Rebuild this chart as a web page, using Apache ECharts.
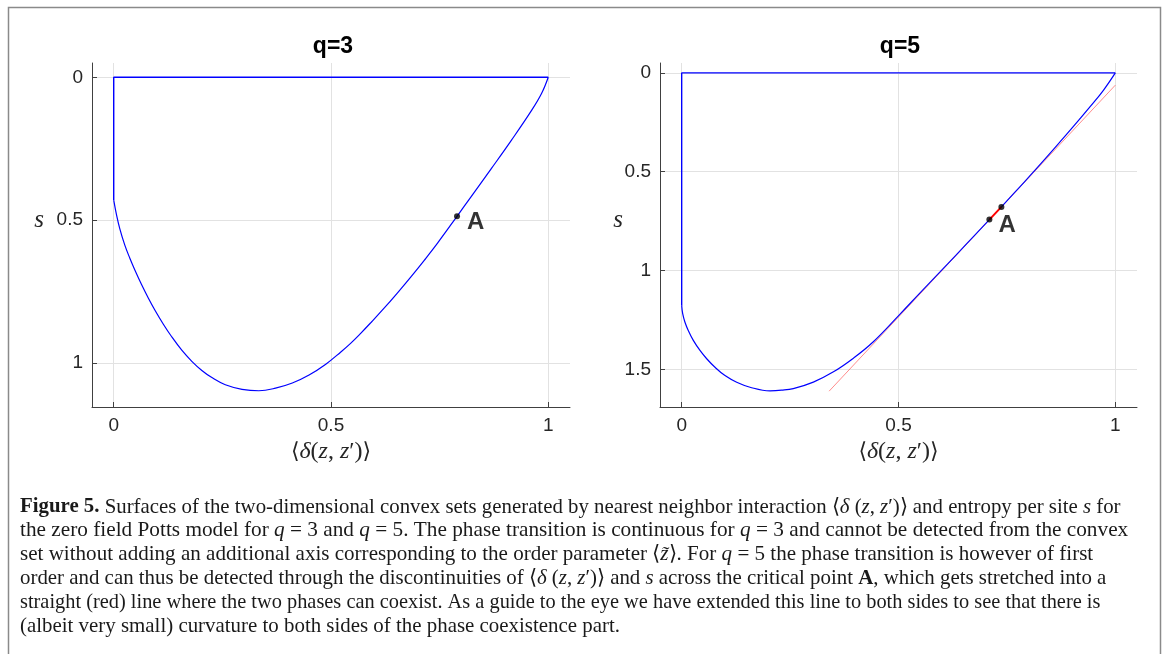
<!DOCTYPE html>
<html>
<head>
<meta charset="utf-8">
<script src="https://cdn.jsdelivr.net/npm/echarts@6/dist/echarts.min.js"></script>
<style>
  html, body { margin: 0; padding: 0; background: #ffffff; }
  #chart { width: 1169px; height: 654px; }
</style>
</head>
<body>
<div id="chart"></div>
<script>
// Tick values shared by both panels
const xTicks = [0, 0.5, 1];
const yTicksQ3 = [0, 0.5, 1];
const yTicksQ5 = [0, 0.5, 1, 1.5];

// q = 3: straight edges of the convex set (top edge and the x = 0 edge)
const q3Edges = [[1, 0], [0, 0], [0, 0.43]];
// q = 3: curved boundary, from the x = 0 edge down to the minimum and back up to (1, 0)
const q3Curve = [
  [0, 0.43], [0.0062, 0.480], [0.0139, 0.530], [0.0255, 0.588], [0.0371, 0.634],
  [0.0486, 0.675], [0.064, 0.726], [0.0795, 0.773], [0.0949, 0.816], [0.1142, 0.865],
  [0.1334, 0.909], [0.1566, 0.956], [0.1797, 0.995], [0.2028, 1.027], [0.2259, 1.052],
  [0.2568, 1.077], [0.2953, 1.093], [0.334, 1.098], [0.3724, 1.089], [0.411, 1.071],
  [0.4495, 1.043], [0.488, 1.005], [0.522, 0.963], [0.5451, 0.932], [0.5683, 0.897],
  [0.5914, 0.860], [0.6222, 0.809], [0.6531, 0.755], [0.6839, 0.699], [0.7146, 0.641],
  [0.7456, 0.580], [0.790, 0.487], [0.8226, 0.418], [0.8689, 0.320], [0.915, 0.221],
  [0.9612, 0.117], [0.9845, 0.057], [1.0, 0]
];
// q = 3: critical point A
const q3PointA = [[0.790, 0.487]];

// q = 5: straight edges
const q5Edges = [[1, 0], [0, 0], [0, 1.176]];
// q = 5: curved boundary, lower branch up to the first end of the coexistence segment
const q5CurveLow = [
  [0, 1.176], [0.0023, 1.218], [0.0076, 1.261], [0.0152, 1.303], [0.0268, 1.353],
  [0.0422, 1.404], [0.0577, 1.446], [0.0768, 1.489], [0.0999, 1.531], [0.1269, 1.565],
  [0.1576, 1.590], [0.2037, 1.608], [0.2305, 1.605], [0.2574, 1.597], [0.3036, 1.564],
  [0.35, 1.512], [0.396, 1.443], [0.442, 1.360], [0.5036, 1.220], [0.5497, 1.113],
  [0.6035, 0.989], [0.6574, 0.864], [0.7096, 0.742]
];
// q = 5: curved boundary, upper branch from the second end of the coexistence segment
const q5CurveHigh = [
  [0.7373, 0.678], [0.7804, 0.575], [0.819, 0.482], [0.865, 0.368], [0.9034, 0.271],
  [0.9419, 0.171], [0.9725, 0.088], [1.0, 0]
];
// q = 5: phase coexistence segment (end points of A)
const q5Coexist = [[0.7096, 0.742], [0.7373, 0.678]];
// q = 5: the coexistence line extended to both sides
const q5Guide = [[0.34, 1.61], [1.0, 0.062]];

const axisColor = '#404040';
const gridColor = '#e2e2e2';
const textColor = '#262626';
const blue = '#0000ff';
const sansFont = 'Liberation Sans';
const serifFont = 'Liberation Serif';

const mathRich = {
  p: { fontFamily: serifFont, fontSize: 24, color: textColor },
  a: { fontFamily: 'DejaVu Serif', fontSize: 22, color: textColor },
  i: { fontFamily: serifFont, fontStyle: 'italic', fontSize: 24, color: textColor }
};
const xName = '{a|⟨}{i|δ}{p|(}{i|z}{p|, }{i|z}{p|′)}{a|⟩}';

function xAxisFor(gridIndex) {
  return {
    type: 'value', gridIndex: gridIndex, min: -0.05, max: 1.05,
    axisLine: { show: true, onZero: false, lineStyle: { color: axisColor, width: 1 } },
    axisTick: { show: true, inside: true, length: 5, customValues: xTicks, lineStyle: { color: axisColor } },
    axisLabel: { customValues: xTicks, color: textColor, fontSize: 19, fontFamily: sansFont, margin: 9,
                 formatter: v => String(v) },
    splitLine: { show: true, lineStyle: { color: gridColor, width: 1 } },
    name: xName, nameLocation: 'middle', nameGap: 31,
    nameTextStyle: { rich: mathRich }
  };
}
function yAxisFor(gridIndex, maxVal, ticks) {
  return {
    type: 'value', gridIndex: gridIndex, inverse: true, min: -0.05, max: maxVal,
    axisLine: { show: true, onZero: false, lineStyle: { color: axisColor, width: 1 } },
    axisTick: { show: true, inside: true, length: 5, customValues: ticks, lineStyle: { color: axisColor } },
    axisLabel: { customValues: ticks, color: textColor, fontSize: 19, fontFamily: sansFont, margin: 9,
                 formatter: v => String(v) },
    splitLine: { show: true, lineStyle: { color: gridColor, width: 1 } }
  };
}

function lineSeries(data, axis, color, width, z, smooth) {
  return {
    type: 'line', xAxisIndex: axis, yAxisIndex: axis, data: data,
    showSymbol: false, smooth: smooth ? 0.4 : false, z: z, silent: true,
    lineStyle: { color: color, width: width }
  };
}

function aLabel(dist, dy) {
  return {
    show: true, formatter: 'A', position: 'right', distance: dist, offset: [0, dy],
    fontSize: 24, fontWeight: 'bold', fontFamily: sansFont, color: '#000'
  };
}

// Figure caption, one entry per printed line
const captionLines = [
  '{b|Figure 5.} Surfaces of the two-dimensional convex sets generated by nearest neighbor interaction ⟨{i|δ} ({i|z}, {i|z}′)⟩ and entropy per site {i|s} for',
  'the zero field Potts model for {i|q} = 3 and {i|q} = 5. The phase transition is continuous for {i|q} = 3 and cannot be detected from the convex',
  'set without adding an additional axis corresponding to the order parameter ⟨{i|z̃}⟩. For {i|q} = 5 the phase transition is however of first',
  'order and can thus be detected through the discontinuities of ⟨{i|δ} ({i|z}, {i|z}′)⟩ and {i|s} across the critical point {b|A}, which gets stretched into a',
  'straight (red) line where the two phases can coexist. As a guide to the eye we have extended this line to both sides to see that there is',
  '(albeit very small) curvature to both sides of the phase coexistence part.'
];
// horizontal set width of each caption line
const captionLineScale = [0.992, 1.013, 1.003, 0.994, 0.97, 0.995];
const captionFont = 21;
const captionColor = '#1a1a1a';
const captionRich = {
  b: { fontFamily: serifFont, fontWeight: 'bold', fontSize: captionFont, color: captionColor },
  i: { fontFamily: serifFont, fontStyle: 'italic', fontSize: captionFont, color: captionColor }
};

const graphics = [
  { type: 'rect', shape: { x: 8.5, y: 7.5, width: 1152, height: 670 }, silent: true,
    style: { fill: 'none', stroke: '#8a8a8a', lineWidth: 1.5 } },
  { type: 'text', x: 39, y: 220, silent: true,
    style: { text: 's', fontFamily: serifFont, fontStyle: 'italic', fontSize: 25, fill: textColor,
             align: 'center', verticalAlign: 'middle' } },
  { type: 'text', x: 618, y: 220, silent: true,
    style: { text: 's', fontFamily: serifFont, fontStyle: 'italic', fontSize: 25, fill: textColor,
             align: 'center', verticalAlign: 'middle' } }
];
captionLines.forEach((line, k) => {
  graphics.push({
    type: 'text', x: 20, y: 507 + k * 23.9, scaleX: captionLineScale[k], silent: true,
    style: { text: line, fontFamily: serifFont, fontSize: captionFont, fill: captionColor,
             align: 'left', verticalAlign: 'middle', rich: captionRich }
  });
});

const titleStyle = { fontSize: 23, fontWeight: 'bold', fontFamily: sansFont, color: '#000' };

const option = {
  animation: false,
  backgroundColor: '#ffffff',
  title: [
    { text: 'q=3', left: 328, top: 30, textAlign: 'center', textStyle: titleStyle },
    { text: 'q=5', left: 895, top: 30, textAlign: 'center', textStyle: titleStyle }
  ],
  grid: [
    { left: 92, top: 63, width: 478, height: 344 },
    { left: 660, top: 63, width: 477, height: 344 }
  ],
  xAxis: [xAxisFor(0), xAxisFor(1)],
  yAxis: [yAxisFor(0, 1.155, yTicksQ3), yAxisFor(1, 1.69, yTicksQ5)],
  series: [
    lineSeries(q3Edges, 0, blue, 1.4, 2, false),
    lineSeries(q3Curve, 0, blue, 1.2, 2, true),
    { type: 'scatter', xAxisIndex: 0, yAxisIndex: 0, data: q3PointA, symbolSize: 6, z: 5,
      itemStyle: { color: '#000' }, label: aLabel(7, 6), silent: true },

    lineSeries(q5Guide, 1, 'rgba(255,0,0,0.45)', 1, 1, false),
    lineSeries(q5Edges, 1, blue, 1.4, 2, false),
    lineSeries(q5CurveLow, 1, blue, 1.2, 2, true),
    lineSeries(q5CurveHigh, 1, blue, 1.2, 2, true),
    lineSeries(q5Coexist, 1, '#ff0000', 2, 3, false),
    { type: 'scatter', xAxisIndex: 1, yAxisIndex: 1, data: q5Coexist, symbolSize: 6, z: 5,
      itemStyle: { color: '#000' }, silent: true, label: { show: false } },
    { type: 'scatter', xAxisIndex: 1, yAxisIndex: 1, data: [q5Coexist[0]], symbolSize: 0, z: 6,
      itemStyle: { color: '#000' }, label: aLabel(9, 6), silent: true }
  ],
  graphic: graphics
};

const chart = echarts.init(document.getElementById('chart'), null, { renderer: 'canvas' });
chart.setOption(option);
</script>
</body>
</html>
